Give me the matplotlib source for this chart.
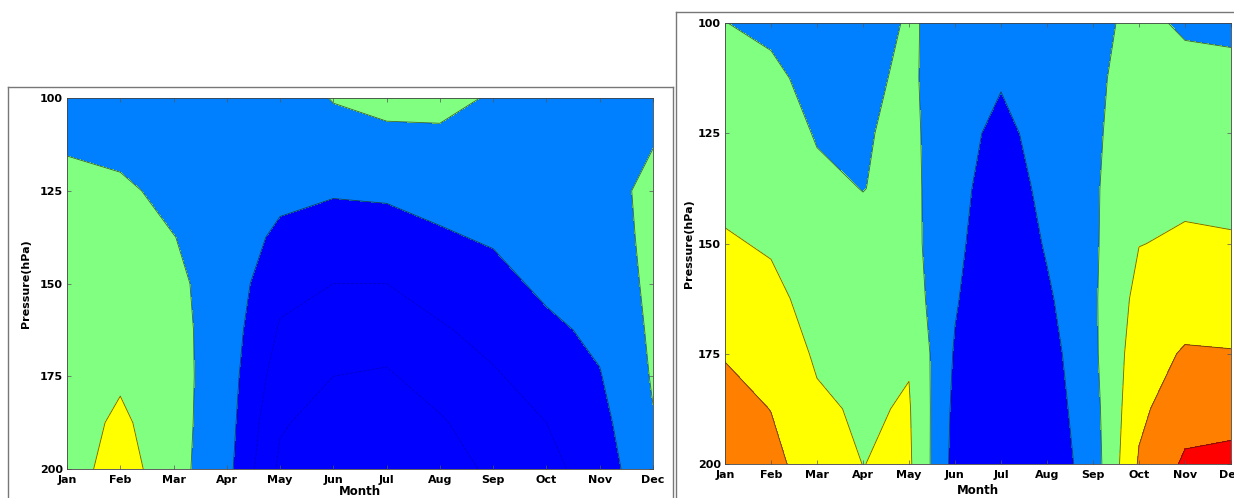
import numpy as np
import matplotlib
matplotlib.use("Agg")
from matplotlib import pyplot as plt
from matplotlib.lines import Line2D

months = ["Jan", "Feb", "Mar", "Apr", "May", "Jun",
          "Jul", "Aug", "Sep", "Oct", "Nov", "Dec"]
pressure = [100, 112.5, 125, 137.5, 150, 162.5, 175, 187.5, 200]
pressure_ticks = [100, 125, 150, 175, 200]

# one row per month, values from 100 hPa down to 200 hPa
left_values = [
    [0.5, 0.9, 1.3, 1.4, 1.45, 1.5, 1.5, 1.5, 1.5],
    [0.3, 0.7, 1.2, 1.4, 1.5, 1.65, 1.85, 2.2, 2.5],
    [0.2, 0.4, 0.7, 1.02, 1.2, 1.3, 1.35, 1.35, 1.34],
    [0.3, 0.4, 0.5, 0.55, 0.55, 0.5, 0.45, 0.4, 0.3],
    [0.5, 0.4, 0.25, -0.2, -0.7, -1.1, -1.5, -1.9, -2.2],
    [1.05, 0.6, 0.1, -0.5, -1.0, -1.5, -2.0, -2.4, -2.7],
    [1.3, 0.7, 0.15, -0.4, -1.0, -1.6, -2.1, -2.6, -3.0],
    [1.3, 0.75, 0.3, -0.1, -0.6, -1.1, -1.6, -2.1, -2.5],
    [0.9, 0.7, 0.45, 0.1, -0.3, -0.7, -1.1, -1.5, -1.8],
    [0.7, 0.65, 0.6, 0.5, 0.2, -0.2, -0.6, -1.0, -1.3],
    [0.6, 0.6, 0.55, 0.5, 0.4, 0.2, -0.05, -0.3, -0.5],
    [0.8, 0.97, 1.3, 1.25, 1.2, 1.15, 1.08, 0.95, 0.75],
]

right_values = [
    [1.02, 1.3, 1.5, 1.75, 2.1, 2.5, 2.93, 3.4, 3.7],
    [0.7, 1.3, 1.5, 1.7, 1.9, 2.25, 2.6, 2.98, 3.3],
    [0.3, 0.55, 0.93, 1.2, 1.45, 1.65, 1.88, 2.15, 2.44],
    [0.3, 0.82, 0.93, 0.98, 1.28, 1.5, 1.7, 1.88, 1.99],
    [1.15, 1.15, 1.2, 1.25, 1.3, 1.5, 1.92, 2.08, 2.15],
    [0.5, 0.45, 0.42, 0.35, 0.25, 0.1, -0.1, -0.25, -0.35],
    [0.4, 0.1, -0.3, -0.6, -0.8, -1.0, -1.1, -1.2, -1.2],
    [0.6, 0.55, 0.45, 0.3, 0.1, -0.15, -0.4, -0.55, -0.69],
    [0.6, 0.75, 0.8, 0.85, 0.85, 0.85, 0.8, 0.65, 0.5],
    [1.4, 1.55, 1.7, 1.85, 1.98, 2.3, 2.55, 2.8, 3.1],
    [0.77, 1.5, 1.7, 1.85, 2.1, 2.5, 3.1, 3.6, 4.15],
    [0.6, 1.5, 1.7, 1.85, 2.05, 2.5, 3.05, 3.6, 4.3],
]

band_levels = [-10, 0, 1, 2, 3, 4, 10]
band_colors = ["#0000ff", "#0080ff", "#80ff80", "#ffff00", "#ff8000", "#ff0000"]
inner_levels = [-3, -2, -1]

plt.rcParams["font.family"] = ["DejaVu Sans"]
plt.rcParams["font.weight"] = "bold"

fig = plt.figure(figsize=(12.34, 4.98), dpi=100)


def draw_panel(rect, values, inner, label_x, month_y):
    ax = fig.add_axes(rect)
    x = np.arange(1, 13)
    z = np.array(values).T
    ax.contourf(x, pressure, z, levels=band_levels, colors=band_colors)
    ax.contour(x, pressure, z, levels=band_levels[1:-1], colors="#202010",
               linewidths=0.6, alpha=0.7)
    if inner:
        ax.contour(x, pressure, z, levels=inner_levels, colors="k",
                   linewidths=0.6, alpha=0.22)
    ax.set_xlim(1, 12)
    ax.set_ylim(200, 100)
    ax.set_xticks(x)
    ax.set_xticklabels(months)
    ax.set_yticks(pressure_ticks)
    ax.tick_params(direction="in", length=3, width=0.5, color="#555555",
                   labelsize=8, top=True, right=True)
    ax.tick_params(axis="x", pad=4)
    ax.tick_params(axis="y", pad=3)
    for s in ax.spines.values():
        s.set_linewidth(0.6)
        s.set_color("#444444")
    ax.set_ylabel("Pressure(hPa)", fontsize=8, fontweight="bold")
    ax.set_xlabel("Month", fontsize=8.5, fontweight="bold")
    ax.yaxis.set_label_coords(label_x, 0.5)
    ax.xaxis.set_label_coords(0.5, month_y)
    return ax


W, H = 1234.0, 498.0
draw_panel([67 / W, 1 - 469 / H, 586 / W, 371 / H], left_values, True, -0.061, -0.043)
draw_panel([725 / W, 1 - 464 / H, 506 / W, 441 / H], right_values, False, -0.062, -0.045)

# panel frames
frame = dict(transform=fig.transFigure, color="#777777", linewidth=1.0)
fig.add_artist(Line2D([8 / W, 8 / W], [0, 1 - 87 / H], **frame))
fig.add_artist(Line2D([8 / W, 673 / W], [1 - 87 / H, 1 - 87 / H], **frame))
fig.add_artist(Line2D([673 / W, 673 / W], [0, 1 - 87 / H], **frame))
fig.add_artist(Line2D([676 / W, 676 / W], [0, 1 - 12 / H], **frame))
fig.add_artist(Line2D([676 / W, 1], [1 - 12 / H, 1 - 12 / H], **frame))

fig.savefig("out.png", dpi=100)
